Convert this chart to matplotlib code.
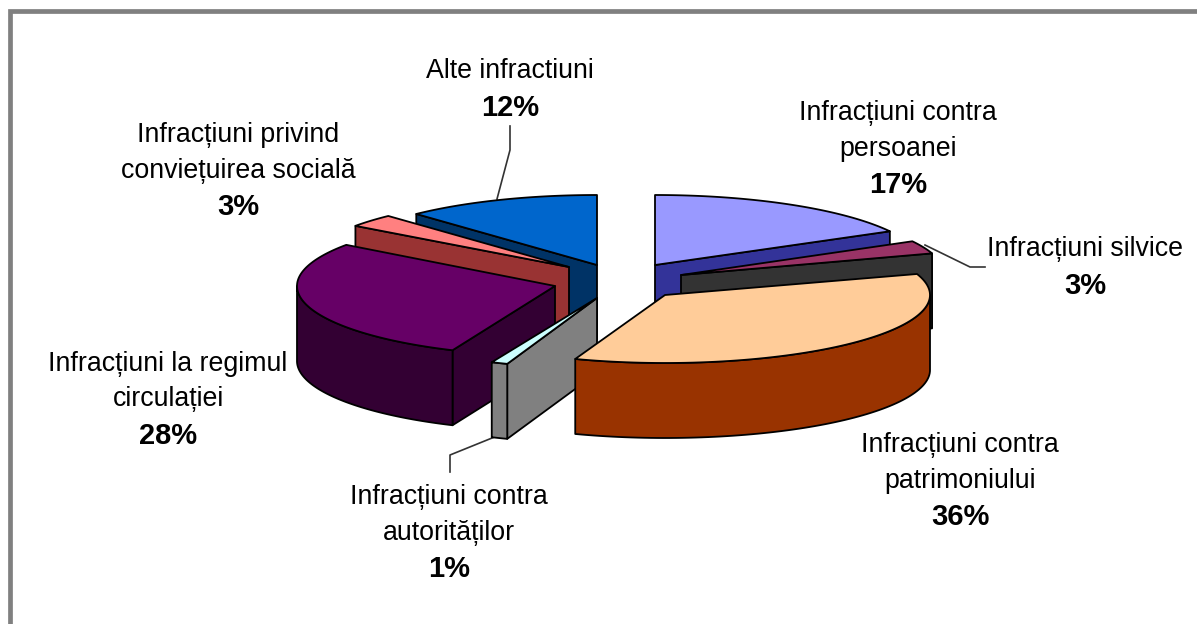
import numpy as np
import matplotlib
matplotlib.use('Agg')
import matplotlib.pyplot as plt

plt.rcParams['font.family'] = ['Liberation Sans', 'DejaVu Sans']

# data, clockwise from 12 o'clock
names = ['Infracțiuni contra\npersoanei', 'Infracțiuni silvice', 'Infracțiuni contra\npatrimoniului',
         'Infracțiuni contra\nautorităților', 'Infracțiuni la regimul\ncirculației',
         'Infracțiuni privind\nconviețuirea socială', 'Alte infractiuni']
shown = ['17%', '3%', '36%', '1%', '28%', '3%', '12%']
values = [17.0, 3.0, 35.5, 1.0, 28.5, 3.0, 12.0]

top_colors = ['#9999FF', '#993366', '#FFCC99', '#CCFFFF', '#660066', '#FF8080', '#0066CC']
side_colors = ['#333399', '#333333', '#993300', '#808080', '#330033', '#993333', '#003366']

# layout in pixels
centers = [(655, 265), (681, 275), (665, 295), (597, 298), (555, 286), (569, 267), (597, 265)]
radii_x = [268, 264, 265, 265, 258, 264, 264]
radius_y = 70
depth = 75
draw_order = [6, 0, 5, 1, 4, 3, 2]
label_x = [898, 1085, 960, 449, 168, 238, 510]
label_y = [113, 249, 445, 497, 364, 135, 71]
line_gap = 35.5

fig = plt.figure(figsize=(11.97, 6.24), dpi=100)
ax = fig.add_axes([0, 0, 1, 1])
ax.set_xlim(0, 1197)
ax.set_ylim(624, 0)
ax.axis('off')

ax.plot([10, 10, 1197], [624, 11, 11], color='#808080', lw=3.4, solid_joinstyle='miter')

edges = np.cumsum([0] + values) / sum(values) * 360


def rim(i, a, b):
    t = np.radians(np.linspace(a, b, 80))
    ry = 68 if i == 2 else radius_y
    return centers[i][0] + radii_x[i] * np.sin(t), centers[i][1] - ry * np.cos(t)


def face(xs, ys, color, z):
    ax.fill(xs, ys, facecolor=color, edgecolor='black', lw=1.3, joinstyle='round', zorder=z)


for z, i in enumerate(draw_order):
    a, b = edges[i], edges[i + 1]
    cx, cy = centers[i]
    x, y = rim(i, a, b)
    # cut face on the side that looks at the viewer
    if a >= 180:
        face([cx, x[0], x[0], cx], [cy, y[0], y[0] + depth, cy + depth], side_colors[i], 2 + z)
    if b <= 180:
        face([cx, x[-1], x[-1], cx], [cy, y[-1], y[-1] + depth, cy + depth], side_colors[i], 2 + z)
    # outer wall
    lo, hi = max(a, 90), min(b, 270)
    if hi > lo:
        wx, wy = rim(i, lo, hi)
        face(np.r_[wx, wx[::-1]], np.r_[wy, wy[::-1] + depth], side_colors[i], 2 + z)
    face(np.r_[cx, x], np.r_[cy, y], top_colors[i], 2 + z)

# leader lines
ax.plot([497, 510, 510], [199, 150, 126], color='#333333', lw=1.2, zorder=1)
ax.plot([925, 970, 985], [245, 267, 267], color='#333333', lw=1.2, zorder=1)
ax.plot([497, 450, 450], [436, 455, 472], color='#333333', lw=1.2, zorder=1)

for i in range(len(names)):
    lines = names[i].split('\n')
    for k, line in enumerate(lines):
        ax.text(label_x[i], label_y[i] + k * line_gap, line, ha='center', va='center',
                fontsize=19.3, color='black', zorder=30)
    ax.text(label_x[i], label_y[i] + len(lines) * line_gap + 1, shown[i], ha='center', va='center',
            fontsize=21, fontweight='bold', color='black', zorder=30)

fig.savefig('out.png', dpi=100)
